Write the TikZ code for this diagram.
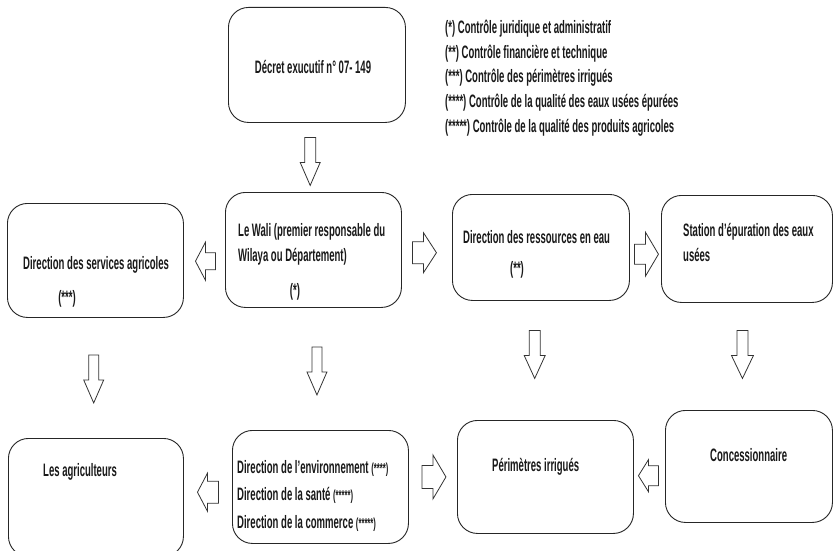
\documentclass[tikz,border=0pt]{standalone}
\usepackage{fontspec}
\setmainfont{Liberation Sans}[FakeStretch=0.53]
\usetikzlibrary{calc}
\newcommand{\smstar}{\fontsize{14.5}{15}\selectfont}
\tikzset{
  box/.style={draw=black!85, line width=0.9pt, rounded corners=20pt, anchor=north west, inner sep=0pt},
  txt/.style={inner sep=0pt, font=\fontsize{18}{24.8}\selectfont\bfseries, align=left, text=black!90},
  arrline/.style={draw=black!80, line width=0.8pt, fill=white},
  pics/barrow/.style n args={4}{code={
    \draw[arrline] (-#1/2,#3) -- (#1/2-#2,#3) -- (#1/2-#2,#4) -- (#1/2,0)
      -- (#1/2-#2,-#4) -- (#1/2-#2,-#3) -- (-#1/2,-#3) -- cycle;}}
}
\begin{document}
\begin{tikzpicture}[x=1pt,y=-1pt]
\clip (0,0) rectangle (833,551);
\fill[white] (0,0) rectangle (833,551);
% boxes
\node[box, minimum width=177pt, minimum height=115pt] (dec) at (228,7) {};
\node[box, minimum width=176pt, minimum height=114pt] (dsa) at (7,203) {};
\node[box, minimum width=176pt, minimum height=115pt] (wali) at (225,192) {};
\node[box, minimum width=177pt, minimum height=106pt] (dre) at (452,194) {};
\node[box, minimum width=171pt, minimum height=107pt] (sta) at (661,195) {};
\node[box, minimum width=175pt, minimum height=118pt] (agr) at (8,438) {};
\node[box, minimum width=176pt, minimum height=113pt] (de) at (232,430) {};
\node[box, minimum width=176pt, minimum height=113pt] (per) at (457,420) {};
\node[box, minimum width=167pt, minimum height=112pt] (con) at (665,410) {};
% texts (anchor base = baseline of last line)
\node[txt, anchor=base] (tdec) at (313,73.5) {Décret exucutif n° 07- 149};
\node[txt, anchor=base west] (leg) at (445,132.5) {(*) Contrôle juridique et administratif\\
(**) Contrôle financière et technique\\
(***) Contrôle des périmètres irrigués\\
(****) Contrôle de la qualité des eaux usées épurées\\
(*****) Contrôle de la qualité des produits agricoles};
\node[txt, anchor=base west] (tdsa) at (23,269.5) {Direction des services agricoles};
\node[txt, anchor=base] (sdsa) at (67,303) {(***)};
\node[txt, anchor=base west] (twali) at (238,261.5) {Le Wali (premier responsable du\\Wilaya ou Département)};
\node[txt, anchor=base] (swali) at (295,296) {(*)};
\node[txt, anchor=base west] (tdre) at (463,243.5) {Direction des ressources en eau};
\node[txt, anchor=base] (sdre) at (517,274) {(**)};
\node[txt, anchor=base west] (tsta) at (683,261.5) {Station d'épuration des eaux\\usées};
\node[txt, anchor=base west] (tagr) at (43,476.5) {Les agriculteurs};
\node[txt, anchor=base west] (tde1) at (237,473.5) {Direction de l'environnement {\smstar(****)}};
\node[txt, anchor=base west] (tde2) at (237,500) {Direction de la santé {\smstar(*****)}};
\node[txt, anchor=base west] (tde3) at (237,528.5) {Direction de la commerce {\smstar(*****)}};
\node[txt, anchor=base west] (tper) at (492,471.5) {Périmètres irrigués};
\node[txt, anchor=base west] (tcon) at (710,461.5) {Concessionnaire};
% block arrows
\pic[rotate=-90] at ($(dec.south)!0.5!(wali.north)+(-5,4)$) {barrow={48}{23}{5.5}{10}};
\pic[rotate=180] at ($(dsa.east)!0.5!(wali.west)+(1,6)$) {barrow={20}{10}{8.5}{19}};
\pic at ($(wali.east)!0.5!(dre.west)+(-2.5,4)$) {barrow={24}{13}{11}{20}};
\pic at ($(dre.east)!0.5!(sta.west)+(1,6)$) {barrow={24}{13}{10}{22}};
\pic[rotate=-90] at ($(dsa.south)!0.5!(agr.north)+(-2,1)$) {barrow={48}{23}{5}{10}};
\pic[rotate=-90] at ($(wali.south)!0.5!(de.north)+(0,2)$) {barrow={48}{23}{5}{10}};
\pic[rotate=-90] at ($(dre.south)!0.5!(per.north)+(-8.5,-6)$) {barrow={48}{23}{5.5}{10.5}};
\pic[rotate=-90] at ($(sta.south)!0.5!(con.north)+(-5.5,-2)$) {barrow={48}{23}{5.5}{11}};
\pic[rotate=180] at ($(agr.east)!0.5!(de.west)+(0,0)$) {barrow={21}{10}{11}{19}};
\pic at ($(de.east)!0.5!(per.west)+(1,-5)$) {barrow={24}{13}{11.5}{22}};
\pic[rotate=180] at ($(per.east)!0.5!(con.west)+(-1,4)$) {barrow={20}{10}{10}{16}};
\end{tikzpicture}
\end{document}
